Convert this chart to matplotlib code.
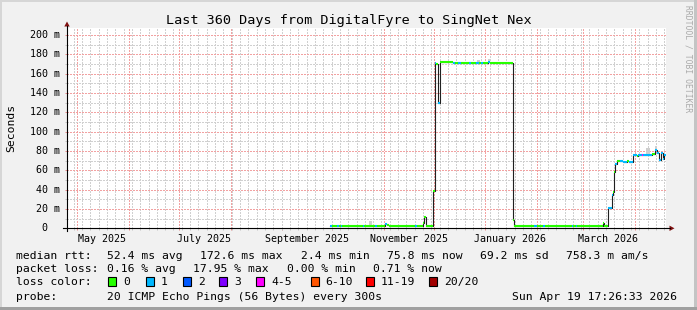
import matplotlib
matplotlib.use("Agg")
import matplotlib.pyplot as plt
import matplotlib.dates as mdates
from matplotlib.ticker import MultipleLocator
from matplotlib.patches import Rectangle, Polygon
from matplotlib.lines import Line2D
import pandas as pd
import datetime as dt

# ---------------- data ----------------
title = "Last 360 Days from DigitalFyre to SingNet Nex"
ylabel = "Seconds"
watermark = "RRDTOOL / TOBI OETIKER"
t_start = dt.datetime(2025, 4, 24, 17, 26, 33)
t_end = dt.datetime(2026, 4, 19, 17, 26, 33)

# median rtt as steps: segment start, value (ms), lost pings of 20
seg_start = [
    "2025-09-29 19:00", "2025-10-01 00:00", "2025-10-04 00:00", "2025-10-05 00:00",
    "2025-10-06 06:00", "2025-10-07 00:00", "2025-10-19 12:00", "2025-10-20 06:00",
    "2025-10-27 00:00", "2025-10-27 18:00", "2025-11-01 19:00", "2025-11-02 20:00",
    "2025-11-04 10:00", "2025-11-20 00:00", "2025-11-21 00:00", "2025-11-24 12:00",
    "2025-11-25 07:00", "2025-11-26 07:00", "2025-11-30 22:00", "2025-12-02 02:00",
    "2025-12-02 16:00", "2025-12-03 17:00", "2025-12-05 02:00", "2025-12-12 17:00",
    "2025-12-14 00:00", "2025-12-16 00:00", "2025-12-17 12:00", "2025-12-22 12:00",
    "2025-12-23 12:00", "2025-12-26 12:00", "2025-12-28 12:00", "2025-12-29 12:00",
    "2025-12-30 12:00", "2026-01-03 00:00", "2026-01-04 00:00", "2026-01-17 14:00",
    "2026-01-18 10:00", "2026-01-30 12:00", "2026-02-01 00:00", "2026-02-05 00:00",
    "2026-02-05 18:00", "2026-02-22 00:00", "2026-02-23 00:00", "2026-02-24 12:00",
    "2026-02-25 12:00", "2026-03-12 19:00", "2026-03-13 12:00", "2026-03-16 00:00",
    "2026-03-18 02:00", "2026-03-18 19:00", "2026-03-19 10:00", "2026-03-20 05:00",
    "2026-03-21 02:00", "2026-03-23 02:00", "2026-03-25 00:00", "2026-03-27 00:00",
    "2026-03-28 15:00", "2026-03-30 15:00", "2026-04-02 00:00", "2026-04-03 00:00",
    "2026-04-05 02:00", "2026-04-06 00:00", "2026-04-11 02:00", "2026-04-12 22:00",
    "2026-04-14 02:00", "2026-04-15 07:00", "2026-04-16 12:00", "2026-04-17 17:00",
    "2026-04-18 12:00",
]
seg_ms = [
    2.7, 2.7, 2.8, 2.7,
    2.7, 2.6, 2.7, 2.6,
    2.7, 2.6, 4.0, 3.6,
    2.7, 2.8, 2.7, 5.8,
    12.0, 2.7, 39.0, 171.0,
    170.5, 130.0, 172.5, 171.0,
    171.3, 171.0, 171.3, 171.0,
    171.3, 171.0, 171.3, 171.0,
    171.3, 172.5, 171.3, 9.0,
    2.7, 2.8, 2.7, 2.8,
    2.7, 2.8, 2.7, 2.8,
    2.7, 5.0, 2.7, 21.0,
    34.0, 38.0, 58.0, 67.0,
    69.5, 70.0, 68.8, 69.6,
    68.8, 75.6, 75.0, 75.8,
    75.5, 75.8, 77.0, 81.0,
    78.0, 71.0, 78.0, 72.0,
    75.8,
]
seg_loss = [
    1, 0, 1, 0,
    1, 0, 1, 0,
    1, 0, 1, 0,
    0, 1, 0, 0,
    0, 0, 0, 1,
    0, 1, 0, 1,
    0, 1, 0, 1,
    0, 1, 0, 1,
    0, 1, 0, 0,
    0, 1, 0, 1,
    0, 1, 0, 1,
    0, 0, 0, 1,
    1, 0, 0, 1,
    0, 1, 1, 0,
    1, 1, 0, 1,
    4, 1, 0, 1,
    1, 1, 1, 1,
    1,
]

# faint smoke (ping spread) patches: start, end, low ms, high ms
smoke_start = ["2025-10-23 12:00", "2025-12-27 00:00", "2026-01-02 12:00", "2026-04-08 00:00", "2026-04-12 22:00"]
smoke_end = ["2025-10-25 00:00", "2025-12-29 00:00", "2026-01-04 00:00", "2026-04-10 00:00", "2026-04-14 02:00"]
smoke_lo = [2.7, 171.3, 171.3, 75.8, 81.0]
smoke_hi = [8.0, 174.0, 175.0, 83.0, 85.0]

loss_labels = ["0", "1", "2", "3", "4-5", "6-10", "11-19", "20/20"]
loss_upper = [0, 1, 2, 3, 5, 10, 19, 20]
loss_colors = ["#26ff00", "#00b8ff", "#0059ff", "#7e00ff", "#ff00ff", "#ff5500", "#ff0000", "#a10000"]

ytick_ms = [0, 20, 40, 60, 80, 100, 120, 140, 160, 180, 200]
xlabel_months = [(2025, 5, "May 2025"), (2025, 7, "July 2025"), (2025, 9, "September 2025"),
                 (2025, 11, "November 2025"), (2026, 1, "January 2026"), (2026, 3, "March 2026")]

rtt_head = "median rtt:"
rtt_stats = ["52.4 ms avg", "172.6 ms max", "2.4 ms min", "75.8 ms now", "69.2 ms sd", "758.3 m am/s"]
loss_head = "packet loss:"
loss_stats = ["0.16 % avg", "17.95 % max", "0.00 % min", "0.71 % now"]
color_head = "loss color:"
probe_head = "probe:"
probe_text = "20 ICMP Echo Pings (56 Bytes) every 300s"
stamp_text = "Sun Apr 19 17:26:33 2026"

# ---------------- layout ----------------
W, H, DPI = 697, 310, 100
MONO = "DejaVu Sans Mono"
X0, X1 = 67, 666          # plot area in px
YB, YT = 228.3, 27.5
PX_PER_MS = (228.3 - 35.0) / 200.0
YMAX = (YB - YT) / PX_PER_MS

fig = plt.figure(figsize=(W / DPI, H / DPI), dpi=DPI)
fig.patch.set_facecolor("#f1f1f1")


def fx(x):
    return x / W


def fy(y):
    return 1 - y / H


def ftext(x, y, s, **kw):
    kw.setdefault("family", MONO)
    kw.setdefault("fontsize", 8.2)
    kw.setdefault("color", "black")
    fig.text(fx(x), fy(y), s, **kw)


# frame shading
fig.add_artist(Rectangle((0, fy(2)), 1, 2 / H, transform=fig.transFigure, color="#d6d6d6", lw=0))
fig.add_artist(Rectangle((0, 0), 2 / W, 1, transform=fig.transFigure, color="#d6d6d6", lw=0))
fig.add_artist(Rectangle((fx(W - 3), 0), 3 / W, 1, transform=fig.transFigure, color="#c4c4c4", lw=0))
fig.add_artist(Rectangle((0, 0), 1, 3 / H, transform=fig.transFigure, color="#a0a0a0", lw=0))

ax = fig.add_axes([fx(X0), fy(YB), (X1 - X0) / W, (YB - YT) / H])
ax.set_facecolor("white")
ax.set_xlim(t_start, t_end)
ax.set_ylim(0, YMAX)
for s in ax.spines.values():
    s.set_visible(False)

ax.xaxis.set_major_locator(mdates.MonthLocator())
ax.xaxis.set_minor_locator(mdates.RRuleLocator(
    mdates.rrulewrapper(mdates.DAILY, interval=5, dtstart=dt.datetime(2025, 4, 26, 12, 0))))
ax.yaxis.set_major_locator(MultipleLocator(20))
ax.yaxis.set_minor_locator(MultipleLocator(10))
dot = (0, (1, 1))
ax.grid(True, which="minor", color="#d0d0d0", lw=1.0, linestyle=dot, antialiased=False)
ax.grid(True, which="major", color="#f2a2a2", lw=1.0, linestyle=dot, antialiased=False)
ax.set_axisbelow(True)
ax.tick_params(which="major", direction="out", length=1.6, width=0.72, color="#e88a8a",
               labelleft=False, labelbottom=False)
ax.tick_params(which="minor", direction="out", length=1.6, width=0.72, color="#c4c4c4")

# data
starts = list(pd.to_datetime(seg_start).to_pydatetime())
ends = starts[1:] + [t_end]

for a, b, lo, hi in zip(pd.to_datetime(smoke_start).to_pydatetime(), pd.to_datetime(smoke_end).to_pydatetime(),
                        smoke_lo, smoke_hi):
    ax.fill_between([a, b], [lo, lo], [hi, hi], color="#cfcfcf", lw=0, zorder=2)

ax.step(starts + [t_end], seg_ms + [seg_ms[-1]], where="post", color="#202020", lw=0.8, zorder=3)


def loss_color(n):
    for up, c in zip(loss_upper, loss_colors):
        if n <= up:
            return c
    return loss_colors[-1]


for a, b, v, n in zip(starts, ends, seg_ms, seg_loss):
    ax.hlines(v, a, b, color=loss_color(n), lw=1.5, zorder=4, capstyle="butt")

# y labels
ytr = ax.get_yaxis_transform()
for v in ytick_ms:
    lab = f"{v:3d} m" if v else "  0  "
    ax.text((30.3 - X0) / (X1 - X0), v, lab, transform=ytr, family=MONO, fontsize=7.2,
            ha="left", va="center")

# x labels (centred mid-month)
xtr = ax.get_xaxis_transform()
for yr, mo, lab in xlabel_months:
    d = dt.datetime(yr, mo, 1) + dt.timedelta(days=15)
    ax.text(d, -(241.5 - YB) / (YB - YT), lab, transform=xtr, family=MONO, fontsize=7.2,
            ha="center", va="baseline")

# axes lines and arrows
fig.add_artist(Line2D([fx(X0), fx(X0)], [fy(231), fy(26)], transform=fig.transFigure, color="black", lw=0.8))
fig.add_artist(Line2D([fx(62.5), fx(670)], [fy(YB), fy(YB)], transform=fig.transFigure, color="black", lw=0.8))
arrow_c = "#7f1010"
fig.add_artist(Polygon([(fx(67), fy(21.5)), (fx(64.3), fy(26.5)), (fx(69.7), fy(26.5))],
                       closed=True, transform=fig.transFigure, color=arrow_c, lw=0))
fig.add_artist(Polygon([(fx(674.5), fy(228.3)), (fx(669.5), fy(225.6)), (fx(669.5), fy(231.0))],
                       closed=True, transform=fig.transFigure, color=arrow_c, lw=0))

# title, axis label, watermark
ftext(W / 2, 24, title, fontsize=9.7, ha="center", va="baseline")
ftext(11, 127.5, ylabel, rotation=90, ha="center", va="center")
ftext(688, 5, watermark, rotation=270, ha="center", va="top", fontsize=5.8, color="#aaaaaa")

# legend rows
ftext(16, 259, rtt_head, va="baseline")
for x, s in zip([107, 200, 300.7, 386.7, 480, 566], rtt_stats):
    ftext(x, 259, s, va="baseline")
ftext(16, 272, loss_head, va="baseline")
for x, s in zip([107, 193.3, 286.7, 372.7], loss_stats):
    ftext(x, 272, s, va="baseline")
ftext(16, 285, color_head, va="baseline")
for x, lab, c in zip([108.3, 145.7, 182.7, 219.3, 256, 310.7, 366, 429.3], loss_labels, loss_colors):
    fig.add_artist(Rectangle((fx(x), fy(285.5)), 8 / W, 8.5 / H, transform=fig.transFigure,
                             facecolor=c, edgecolor="black", lw=0.8))
    ftext(x + 15, 285, lab, va="baseline")
ftext(16, 299.5, probe_head, va="baseline")
ftext(107, 299.5, probe_text, va="baseline")
ftext(512.3, 299.5, stamp_text, va="baseline")

fig.savefig("out.png", dpi=DPI, facecolor=fig.get_facecolor())
